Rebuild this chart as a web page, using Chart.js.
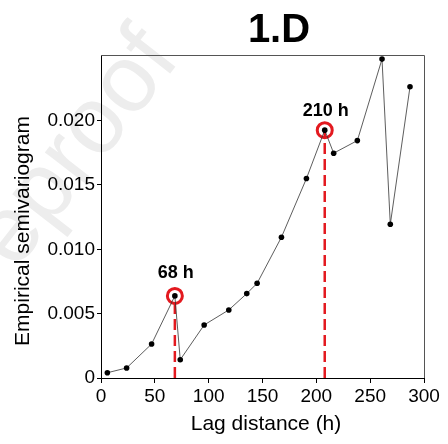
<!DOCTYPE html>
<html>
<head>
<meta charset="utf-8">
<script src="https://cdn.jsdelivr.net/npm/chart.js@4.4.1/dist/chart.umd.min.js"></script>
<style>
  body { margin:0; background:#fff; }
  #wrap { width:448px; height:444px; position:relative; }
</style>
</head>
<body>
<div id="wrap"><canvas id="chart"></canvas></div>
<script>
// lag distance (h) and empirical semivariogram values
const lagDist = [5.9, 23.8, 47, 68.6, 73.6, 95.8, 118.7, 135.4, 145, 167.6, 190.8, 207.8, 216.1, 238.1, 261, 268.7, 287];
const gamma = [0.00041, 0.00078, 0.00264, 0.00638, 0.00142, 0.00412, 0.00529, 0.00656, 0.00736, 0.01094, 0.0155, 0.01926, 0.01747, 0.01845, 0.02478, 0.01195, 0.02263];
const peakIdx = [3, 11];
const peakLabels = ['68 h', '210 h'];
const xTicks = [0, 50, 100, 150, 200, 250, 300];
const yTicks = [0, 0.005, 0.010, 0.015, 0.020];

const FONT = '"Liberation Sans", Arial, Helvetica, sans-serif';
const RED = '#e3191f';

const points = lagDist.map((x, i) => ({x: x, y: gamma[i]}));
const peaks = peakIdx.map(i => points[i]);

// dashed drop lines from the axis up to each highlighted point
const dropSets = peaks.map(p => ({
  data: [{x: p.x, y: 0}, {x: p.x, y: p.y}],
  borderColor: RED,
  borderWidth: 2.5,
  borderDash: [11, 5],
  pointRadius: 0,
  fill: false
}));

const extras = {
  id: 'extras',
  beforeDraw(chart){
    const c = chart.ctx;
    // faint watermark
    c.save();
    c.translate(40, 240);
    c.rotate(-52 * Math.PI / 180);
    c.fillStyle = '#ededed';
    c.font = '95px ' + FONT;
    c.textBaseline = 'alphabetic';
    c.fillText('eproof', -40, 0);
    c.restore();
  },
  afterDraw(chart){
    const c = chart.ctx, a = chart.chartArea;
    c.save();
    // top/right frame
    c.strokeStyle = '#555';
    c.lineWidth = 1;
    c.beginPath();
    c.moveTo(a.left, a.top + 0.5);
    c.lineTo(a.right + 0.5, a.top + 0.5);
    c.lineTo(a.right + 0.5, a.bottom);
    c.stroke();

    c.fillStyle = '#000';
    c.textAlign = 'center';
    c.font = 'bold 40px ' + FONT;
    c.fillText('1.D', 279, 42);

    c.font = '21px ' + FONT;
    c.textBaseline = 'middle';
    c.fillText('Lag distance (h)', 266, 424);
    c.save();
    c.translate(23, 231);
    c.rotate(-Math.PI / 2);
    c.fillText('Empirical semivariogram', 0, 0);
    c.restore();

    // peak labels
    const meta = chart.getDatasetMeta(1);
    const lift = [18, 14];
    c.font = 'bold 18px ' + FONT;
    c.textBaseline = 'alphabetic';
    meta.data.forEach((el, i) => {
      c.fillText(peakLabels[i], el.x + 1, el.y - lift[i]);
    });
    c.restore();
  }
};

new Chart(document.getElementById('chart'), {
  type: 'line',
  data: {
    datasets: [
      {
        data: points,
        borderColor: '#333',
        borderWidth: 0.8,
        pointRadius: 2.8,
        pointBackgroundColor: '#000',
        pointBorderWidth: 0,
        fill: false
      },
      {
        data: peaks,
        showLine: false,
        pointRadius: 7.5,
        pointBorderWidth: 3,
        pointBorderColor: RED,
        pointBackgroundColor: 'rgba(0,0,0,0)'
      },
      ...dropSets
    ]
  },
  options: {
    responsive: true,
    maintainAspectRatio: false,
    animation: false,
    layout: { padding: {top: 55, right: 24, left: 0, bottom: 0} },
    plugins: { legend: {display: false}, tooltip: {enabled: false} },
    scales: {
      x: {
        type: 'linear',
        min: 0, max: 300,
        afterBuildTicks: s => { s.ticks = xTicks.map(v => ({value: v})); },
        afterFit: s => { s.height = 66; },
        grid: { drawOnChartArea: false, color: '#000', tickLength: 5 },
        border: { color: '#000', width: 1 },
        ticks: { color: '#000', font: {family: FONT, size: 19}, padding: 2, maxRotation: 0 }
      },
      y: {
        min: 0, max: 0.0251,
        afterBuildTicks: s => { s.ticks = yTicks.map(v => ({value: v})); },
        afterFit: s => { s.width = 101; },
        grid: { drawOnChartArea: false, color: '#000', tickLength: 4 },
        border: { color: '#000', width: 1 },
        ticks: {
          color: '#000', font: {family: FONT, size: 19}, padding: 2,
          callback: v => v === 0 ? '0' : v.toFixed(3)
        }
      }
    }
  },
  plugins: [extras]
});
</script>
</body>
</html>
